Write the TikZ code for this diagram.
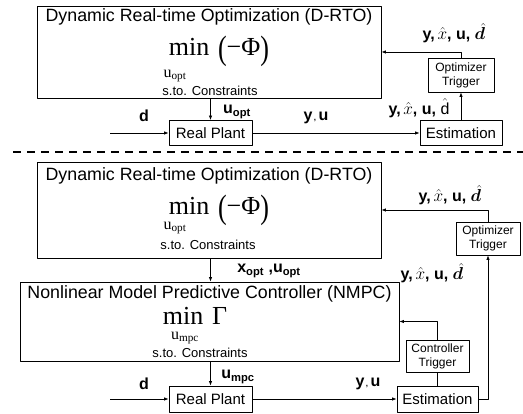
\documentclass[tikz,border=0pt]{standalone}
\usepackage{fontspec}
\usepackage{bm}
\usepackage{graphicx}
\setmainfont{Liberation Sans}
\newfontfamily\tnr{Liberation Serif}
\usetikzlibrary{arrows.meta}
\newcommand{\fs}[2]{\fontsize{#1}{#2}\selectfont}
\newcommand{\tallp}[1]{\raisebox{-0.12em}{\scalebox{1}[1.3]{#1}}}
\begin{document}
\begin{tikzpicture}[x=1pt,y=-1pt,line join=round,>={Latex[length=4.5pt,width=3.5pt]},
	box/.style={draw,line width=0.8pt,inner sep=0pt,align=center},
	title/.style={font=\fs{17.8}{20}},
	minf/.style={anchor=base,inner sep=0pt,font=\tnr\fs{26}{28}},
	subf/.style={inner sep=0pt,font=\tnr\fs{16}{18}},
	sto/.style={font=\fs{13}{15}},
	trig/.style={box,font=\fs{12}{14}},
	blk/.style={box,minimum height=25,font=\fs{15}{17}},
	lbl/.style={inner sep=0pt,font=\fs{16}{18}\bfseries},
	flow/.style={->,line width=0.8pt}]
	
	\useasboundingbox (0,0) rectangle (523,414);
	
	% ---------- D-RTO alone
	\node[box,minimum width=344,minimum height=92] (drtoA) at (209,52) {};
	\node[title] (titA) at (209,17) {Dynamic Real-time Optimization (D-RTO)};
	\node[minf] (minA) at (219,56) {min\,\,\tallp{(}−Φ\tallp{)}};
	\node[subf] (uA) at (175,76) {u\textsubscript{opt}};
	\node[sto] (stA) at (210,91) {s.to. Constraints};
	
	\node[trig,minimum width=66,minimum height=34] (trigA) at (461,75) {Optimizer\\Trigger};
	\node[blk,minimum width=83] (plantA) at (210.5,133) {Real Plant};
	\node[blk,minimum width=82] (estA) at (461,133) {Estimation};
	\coordinate (inA) at (110,133);
	
	\draw[flow] (inA) -- (plantA.west);
	\draw[flow] (plantA.north |- drtoA.south) -- (plantA.north);
	\draw[flow] (plantA.east) -- (estA.west);
	\draw[flow] (estA.north) -- (trigA.south);
	\draw[flow] (trigA.north) |- (drtoA.east);
	
	\node[lbl] (dA) at (144,116) {d};
	\node[lbl] (uoptA) at (237,112) {u\textsubscript{opt}};
	\node[lbl] (yuA) at (316,118) {y{\fs{8}{8}\,,}\,u};
	\node[lbl] (fbA) at (454,33) {y,\,$\hat{x}$, u, $\bm{\hat{d}}$};
	\node[lbl] (fbA2) at (419,108) {y,\,$\hat{x}$, u, $\hat{\mathrm{d}}$};
	
	% ---------- divider
	\draw[line width=1.8pt,dash pattern=on 8pt off 6pt] (13,152) -- (523,152);
	
	% ---------- D-RTO + NMPC
	\node[box,minimum width=344,minimum height=96] (drtoB) at (209,210) {};
	\node[title] (titB) at (209,176) {Dynamic Real-time Optimization (D-RTO)};
	\node[minf] (minB) at (219,215) {min\,\,\tallp{(}−Φ\tallp{)}};
	\node[subf] (uB) at (175,228) {u\textsubscript{opt}};
	\node[sto] (stB) at (208,245) {s.to. Constraints};
	
	\node[box,minimum width=379,minimum height=79] (nmpc) at (209.5,321.5) {};
	\node[title] (titC) at (209.5,294) {Nonlinear Model Predictive Controller (NMPC)};
	\node[minf] (minC) at (195,325) {min\,\,Γ};
	\node[subf] (uC) at (185,338) {u\textsubscript{mpc}};
	\node[sto] (stC) at (200,353) {s.to. Constraints};
	
	\node[trig,minimum width=64,minimum height=33] (trigB) at (488,238.5) {Optimizer\\Trigger};
	\node[trig,minimum width=63,minimum height=32] (ctrl) at (437.5,356) {Controller\\Trigger};
	\node[blk,minimum width=83,minimum height=26] (plantB) at (210.5,399) {Real Plant};
	\node[blk,minimum width=81,minimum height=26] (estB) at (437.5,399) {Estimation};
	\coordinate (inB) at (110,399);
	
	\draw[flow] (inB) -- (plantB.west);
	\draw[flow] (plantB.north |- drtoB.south) -- (nmpc.north -| plantB.north);
	\draw[flow] (plantB.north |- nmpc.south) -- (plantB.north);
	\draw[flow] (plantB.east) -- (estB.west);
	\draw[line width=0.8pt] (estB.north) -- (ctrl.south);
	\draw[flow] (ctrl.north) |- (nmpc.east);
	\draw[flow] (estB.east) -| (trigB.south);
	\draw[flow] (trigB.north) |- (drtoB.east);
	
	\node[lbl] (fbB) at (450,195) {y,\,$\hat{x}$, u, $\bm{\hat{d}}$};
	\node[lbl] (xuB) at (269,271) {x\textsubscript{opt} ,u\textsubscript{opt}};
	\node[lbl] (fbB2) at (432,273) {y,\,$\hat{x}$, u, $\bm{\hat{d}}$};
	\node[lbl] (dB) at (144,384) {d};
	\node[lbl] (umpc) at (238,377) {u\textsubscript{mpc}};
	\node[lbl] (yuB) at (368,384) {y{\fs{8}{8}\,,}\,u};
	
\end{tikzpicture}
\end{document}
